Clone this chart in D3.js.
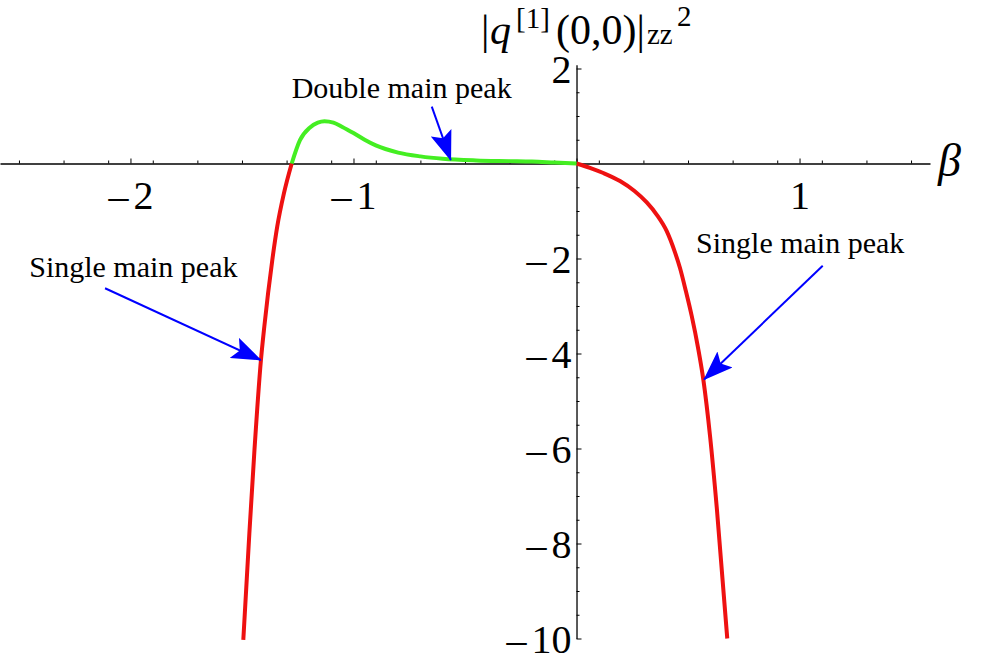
<!DOCTYPE html>
<html>
<head>
<meta charset="utf-8">
<script src="https://cdn.jsdelivr.net/npm/d3@7"></script>
<style>
    html, body { margin: 0; padding: 0; background: #fff; }
    svg { display: block; }
    svg text { font-family: "Liberation Serif", "Times New Roman", serif; }
</style>
</head>
<body>
<svg id="chart" width="1000" height="667"></svg>
<script>
// green branch: double main peak (beta, value)
const greenBeta = [-1.277, -1.24, -1.195, -1.16, -1.13, -1.09, -1.05, -1.0, -0.95, -0.9, -0.8, -0.7, -0.6, -0.45, -0.3, -0.2, -0.1, 0];
const greenVal = [0, 0.49, 0.76, 0.86, 0.89, 0.86, 0.77, 0.64, 0.5, 0.38, 0.23, 0.15, 0.1, 0.065, 0.05, 0.04, 0.02, 0];

// red branches: single main peak
const redLeftBeta = [-1.494, -1.467, -1.444, -1.415, -1.4, -1.383, -1.364, -1.342, -1.312, -1.277];
const redLeftVal = [-10.03, -7.79, -6.03, -4.14, -3.44, -2.73, -2.03, -1.33, -0.63, 0];
const redRightBeta = [0, 0.06, 0.12, 0.195, 0.26, 0.315, 0.36, 0.404, 0.44, 0.464, 0.49, 0.517, 0.545, 0.569, 0.599, 0.629, 0.676];
const redRightVal = [0, -0.09, -0.2, -0.37, -0.58, -0.82, -1.08, -1.42, -1.85, -2.2, -2.68, -3.22, -3.88, -4.56, -5.75, -7.25, -10.0];

const xTicks = [-2, -1, 1];
const xTickLabels = ["\u22122", "\u22121", "1"];
const xMinor = d3.range(-25, 16, 2).map((d) => d / 10).filter((d) => d % 1 !== 0);
const yTicks = [2, -2, -4, -6, -8, -10];
const yTickLabels = ["2", "\u22122", "\u22124", "\u22126", "\u22128", "\u221210"];
const yMinor = d3.range(-20, 5).map((d) => d / 2).filter((d) => d % 2 !== 0);

// annotation labels and arrows, in data coordinates
const noteText = ["Double main peak", "Single main peak", "Single main peak"];
const noteAt = [[-1.277, 1.373], [-2.454, -2.383], [0.536, -1.89]];
const arrowFrom = [[-0.649, 1.196], [-2.114, -2.627], [1.104, -2.152]];
const arrowTo = [[-0.564, 0.074], [-1.416, -4.137], [0.572, -4.547]];

const svg = d3.select("#chart");

const x = d3.scaleLinear().domain([-2.585, 1.585]).range([0, 930]);
const y = d3.scaleLinear().domain([-10, 2.08]).range([638.5, 64.7]);

// Mathematica style minus: a long dash with a small gap before the digits
function minusLabel(sel) {
    sel.each(function () {
        const t = d3.select(this);
        const s = t.text();
        if (s[0] !== "\u2212") return;
        t.text(null);
        t.append("tspan").text("\u2013");
        t.append("tspan").attr("dx", 5).text(s.slice(1));
    });
}

// arrow head used by the annotations
svg.append("defs")
    .append("marker")
    .attr("id", "head")
    .attr("viewBox", "0 0 30 22")
    .attr("refX", 29)
    .attr("refY", 11)
    .attr("markerUnits", "userSpaceOnUse")
    .attr("markerWidth", 30)
    .attr("markerHeight", 22)
    .attr("orient", "auto")
    .append("path")
    .attr("d", "M0,0 L30,11 L0,22 L6,11 z")
    .attr("fill", "#0000ff");

// x axis: minor then major ticks, pointing up
const xAxisG = svg.append("g").attr("transform", `translate(0,${y(0)})`);
xAxisG.append("g")
    .call(d3.axisTop(x).tickValues(xMinor).tickSize(3).tickFormat("").tickSizeOuter(0))
    .call((g) => g.select(".domain").remove());
xAxisG.append("g")
    .call(d3.axisTop(x).tickValues(xTicks.concat([0])).tickSize(5).tickSizeOuter(0)
        .tickFormat((d) => (d === 0 ? "" : xTickLabels[xTicks.indexOf(d)])))
    .call((g) => g.selectAll("text").attr("y", 45).attr("dy", 0)
        .attr("font-size", 40).attr("fill", "#000").call(minusLabel));

// y axis: ticks to the right, labels left of the axis
const yAxisG = svg.append("g").attr("transform", `translate(${x(0)},0)`);
yAxisG.append("g")
    .call(d3.axisRight(y).tickValues(yMinor).tickSize(3).tickFormat("").tickSizeOuter(0))
    .call((g) => g.select(".domain").remove());
yAxisG.append("g")
    .call(d3.axisRight(y).tickValues(yTicks).tickSize(5).tickSizeOuter(0)
        .tickFormat((d, i) => yTickLabels[i]))
    .call((g) => g.selectAll("text").attr("x", -5).attr("dy", "0.34em")
        .attr("text-anchor", "end").attr("font-size", 40).attr("fill", "#000").call(minusLabel));

svg.selectAll(".domain").attr("stroke", "#000").attr("stroke-width", 1.3);
svg.selectAll(".tick line").attr("stroke", "#000").attr("stroke-width", 1);

// curves
const line = d3.line()
    .x((d) => x(d[0]))
    .y((d) => y(d[1]))
    .curve(d3.curveMonotoneX);

const curves = [
    { pts: d3.zip(redLeftBeta, redLeftVal), color: "#ee1111" },
    { pts: d3.zip(redRightBeta, redRightVal), color: "#ee1111" },
    { pts: d3.zip(greenBeta, greenVal), color: "#44ee22" },
];

svg.append("g")
    .selectAll("path")
    .data(curves)
    .enter()
    .append("path")
    .attr("d", (d) => line(d.pts))
    .attr("fill", "none")
    .attr("stroke", (d) => d.color)
    .attr("stroke-width", 4)
    .attr("stroke-linecap", "butt");

// annotations
svg.append("g")
    .selectAll("text")
    .data(noteText)
    .enter()
    .append("text")
    .attr("x", (d, i) => x(noteAt[i][0]))
    .attr("y", (d, i) => y(noteAt[i][1]))
    .attr("font-size", 30)
    .text((d) => d);

svg.append("g")
    .selectAll("line")
    .data(arrowFrom)
    .enter()
    .append("line")
    .attr("x1", (d) => x(d[0]))
    .attr("y1", (d) => y(d[1]))
    .attr("x2", (d, i) => x(arrowTo[i][0]))
    .attr("y2", (d, i) => y(arrowTo[i][1]))
    .attr("stroke", "#0000ff")
    .attr("stroke-width", 2)
    .attr("marker-end", "url(#head)");

// axis labels
svg.append("text")
    .attr("x", 938)
    .attr("y", 176)
    .attr("font-size", 46)
    .attr("font-style", "italic")
    .text("\u03b2");

const title = svg.append("text")
    .attr("y", 44)
    .attr("font-size", 42);
title.append("tspan").attr("x", 481).text("|");
title.append("tspan").attr("x", 490).attr("font-style", "italic").text("q");
title.append("tspan").attr("x", 516).attr("font-size", 29).attr("dy", -16).text("[1]");
title.append("tspan").attr("x", 556).attr("dy", 16).text("(0,0)|");
title.append("tspan").attr("x", 647).attr("font-size", 29).attr("dy", 0).text("zz");
title.append("tspan").attr("x", 677).attr("font-size", 29).attr("dy", -18).text("2");
</script>
</body>
</html>
